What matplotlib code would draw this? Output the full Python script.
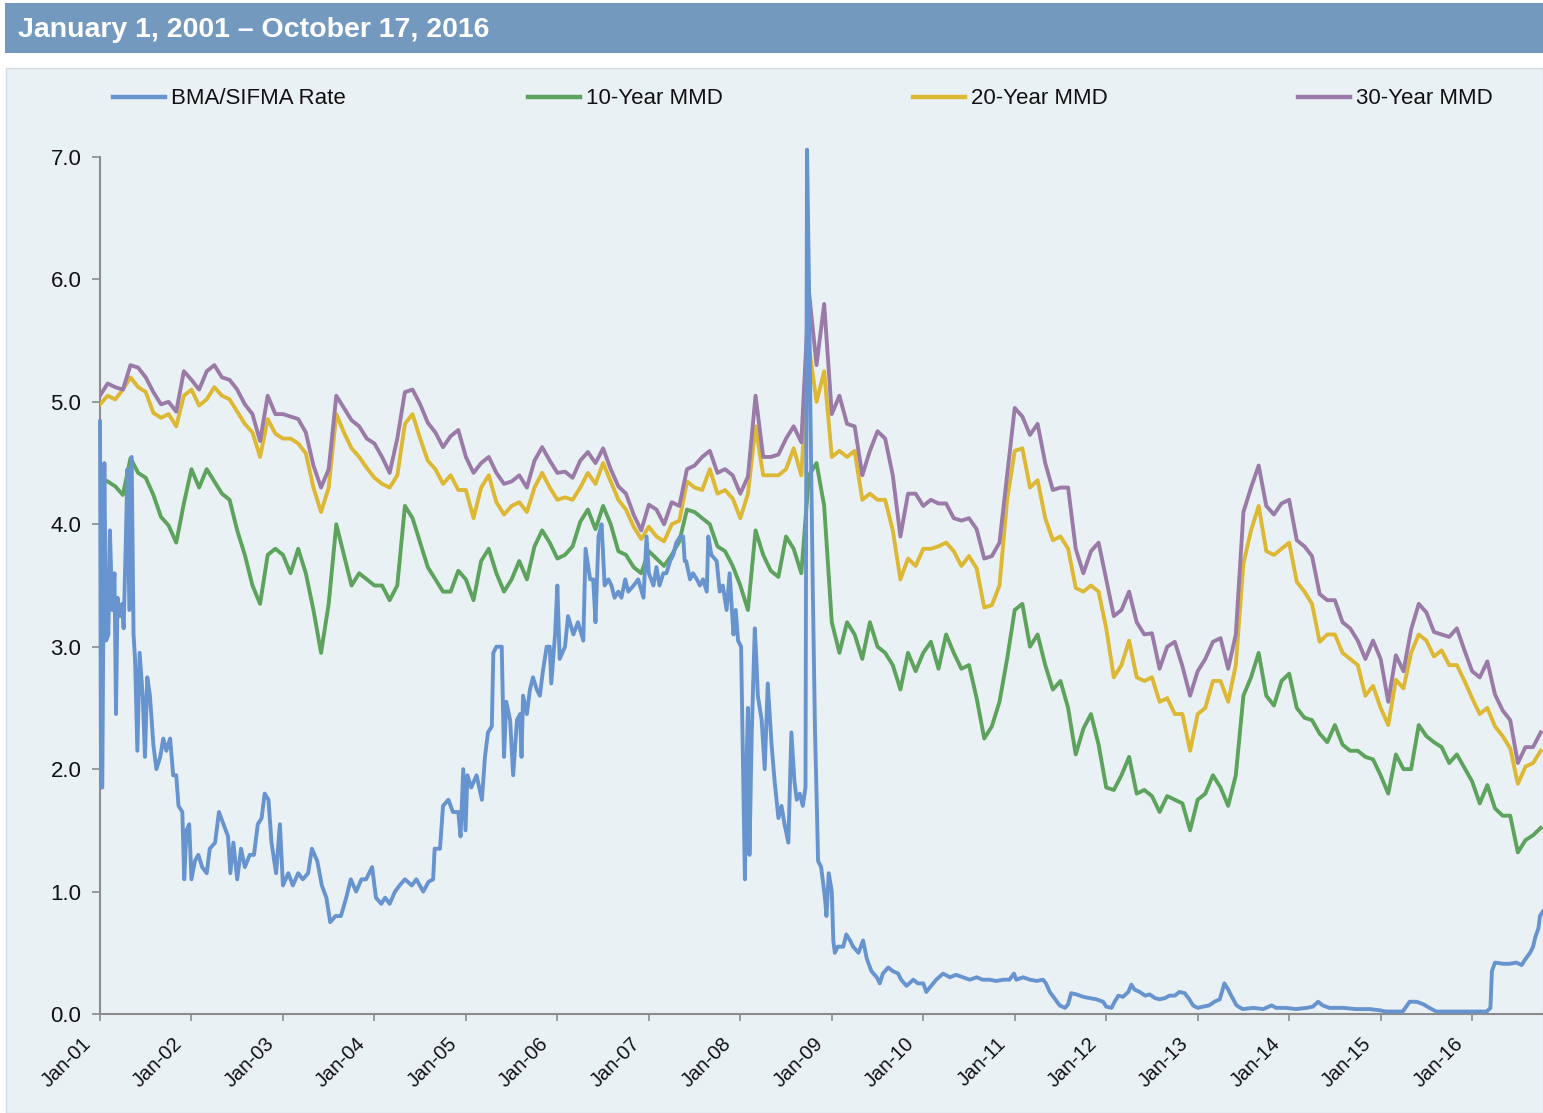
import numpy as np
import matplotlib
matplotlib.use('Agg')
import matplotlib.pyplot as plt
from matplotlib.patches import Rectangle
from matplotlib.lines import Line2D

plt.rcParams['font.family'] = ['Liberation Sans', 'DejaVu Sans']

title = 'January 1, 2001 \u2013 October 17, 2016'
names = ['BMA/SIFMA Rate', '10-Year MMD', '20-Year MMD', '30-Year MMD']
colors = ['#6794CF', '#5DA35D', '#DDB834', '#9A7BA8']
year_labels = ['Jan-01', 'Jan-02', 'Jan-03', 'Jan-04', 'Jan-05', 'Jan-06', 'Jan-07', 'Jan-08',
               'Jan-09', 'Jan-10', 'Jan-11', 'Jan-12', 'Jan-13', 'Jan-14', 'Jan-15', 'Jan-16']

# monthly MMD readings (index 0 = Jan 2001 ... 189 = Oct 2016)
mmd10 = [4.38, 4.35, 4.31, 4.24, 4.54, 4.42, 4.38, 4.24, 4.06, 3.99, 3.85, 4.17,
         4.45, 4.30, 4.45, 4.35, 4.25, 4.20, 3.95, 3.75, 3.50, 3.35, 3.75, 3.80,
         3.75, 3.60, 3.80, 3.60, 3.30, 2.95, 3.35, 4.00, 3.75, 3.50, 3.60, 3.55,
         3.50, 3.50, 3.38, 3.50, 4.15, 4.05, 3.85, 3.65, 3.55, 3.45, 3.45, 3.62,
         3.55, 3.38, 3.70, 3.80, 3.60, 3.45, 3.55, 3.70, 3.55, 3.82, 3.95, 3.85,
         3.72, 3.75, 3.82, 4.02, 4.12, 3.96, 4.15, 4.00, 3.78, 3.75, 3.65, 3.60,
         3.78, 3.72, 3.66, 3.75, 3.86, 4.12, 4.10, 4.05, 4.00, 3.82, 3.78, 3.66,
         3.50, 3.30, 3.95, 3.75, 3.62, 3.57, 3.90, 3.80, 3.60, 4.40, 4.50, 4.15,
         3.20, 2.95, 3.20, 3.10, 2.90, 3.20, 3.00, 2.95, 2.85, 2.65, 2.95, 2.80,
         2.95, 3.04, 2.82, 3.10, 2.95, 2.82, 2.85, 2.58, 2.25, 2.35, 2.55, 2.90,
         3.30, 3.35, 3.00, 3.10, 2.85, 2.65, 2.72, 2.50, 2.12, 2.33, 2.45, 2.20,
         1.85, 1.83, 1.95, 2.10, 1.80, 1.83, 1.78, 1.65, 1.78, 1.75, 1.72, 1.50,
         1.75, 1.80, 1.95, 1.85, 1.70, 1.95, 2.60, 2.75, 2.95, 2.60, 2.52, 2.72,
         2.78, 2.50, 2.42, 2.40, 2.29, 2.22, 2.36, 2.20, 2.15, 2.15, 2.10, 2.08,
         1.95, 1.80, 2.12, 2.00, 2.00, 2.36, 2.27, 2.22, 2.18, 2.05, 2.12, 2.01,
         1.90, 1.72, 1.87, 1.68, 1.62, 1.62, 1.32, 1.42, 1.46, 1.52]

mmd20 = [4.98, 5.05, 5.02, 5.10, 5.20, 5.12, 5.08, 4.91, 4.87, 4.90, 4.80, 5.05,
         5.10, 4.97, 5.02, 5.12, 5.05, 5.02, 4.92, 4.82, 4.75, 4.55, 4.86, 4.74,
         4.70, 4.70, 4.66, 4.58, 4.30, 4.10, 4.30, 4.90, 4.75, 4.62, 4.55, 4.46,
         4.38, 4.33, 4.30, 4.40, 4.82, 4.90, 4.70, 4.52, 4.45, 4.33, 4.40, 4.28,
         4.28, 4.05, 4.30, 4.40, 4.18, 4.08, 4.15, 4.18, 4.10, 4.30, 4.42, 4.30,
         4.20, 4.22, 4.20, 4.30, 4.42, 4.33, 4.50, 4.35, 4.20, 4.12, 3.98, 3.88,
         3.98, 3.90, 3.86, 4.00, 4.03, 4.35, 4.30, 4.28, 4.45, 4.25, 4.28, 4.21,
         4.05, 4.25, 4.80, 4.40, 4.40, 4.40, 4.45, 4.62, 4.40, 5.45, 5.00, 5.25,
         4.55, 4.60, 4.55, 4.60, 4.20, 4.25, 4.20, 4.20, 3.95, 3.55, 3.72, 3.66,
         3.80, 3.80, 3.82, 3.85, 3.78, 3.66, 3.74, 3.64, 3.32, 3.34, 3.50, 4.20,
         4.60, 4.62, 4.30, 4.36, 4.05, 3.87, 3.90, 3.80, 3.48, 3.45, 3.50, 3.45,
         3.15, 2.75, 2.85, 3.05, 2.75, 2.72, 2.75, 2.55, 2.58, 2.45, 2.45, 2.15,
         2.45, 2.50, 2.72, 2.72, 2.55, 2.85, 3.68, 3.95, 4.15, 3.78, 3.75, 3.80,
         3.85, 3.53, 3.45, 3.35, 3.04, 3.10, 3.10, 2.95, 2.90, 2.85, 2.60, 2.68,
         2.50, 2.36, 2.73, 2.66, 2.95, 3.10, 3.05, 2.92, 2.97, 2.85, 2.85, 2.72,
         2.58, 2.45, 2.50, 2.35, 2.27, 2.17, 1.88, 2.02, 2.05, 2.15]

mmd30 = [5.05, 5.15, 5.12, 5.10, 5.30, 5.28, 5.20, 5.08, 4.98, 5.00, 4.92, 5.25,
         5.18, 5.10, 5.25, 5.30, 5.20, 5.18, 5.10, 4.98, 4.90, 4.68, 5.05, 4.90,
         4.90, 4.88, 4.86, 4.75, 4.48, 4.30, 4.45, 5.05, 4.95, 4.85, 4.80, 4.70,
         4.66, 4.55, 4.42, 4.70, 5.08, 5.10, 4.98, 4.83, 4.75, 4.63, 4.72, 4.77,
         4.55, 4.42, 4.50, 4.55, 4.42, 4.33, 4.35, 4.40, 4.30, 4.52, 4.63, 4.52,
         4.42, 4.43, 4.38, 4.52, 4.59, 4.50, 4.62, 4.45, 4.31, 4.25, 4.08, 3.95,
         4.16, 4.12, 4.00, 4.18, 4.15, 4.45, 4.48, 4.55, 4.60, 4.42, 4.45, 4.40,
         4.25, 4.39, 5.05, 4.55, 4.55, 4.57, 4.70, 4.80, 4.67, 5.90, 5.30, 5.80,
         4.90, 5.05, 4.82, 4.80, 4.40, 4.60, 4.76, 4.70, 4.40, 3.90, 4.25, 4.25,
         4.15, 4.20, 4.17, 4.17, 4.05, 4.03, 4.05, 3.96, 3.72, 3.74, 3.85, 4.40,
         4.95, 4.88, 4.73, 4.82, 4.50, 4.28, 4.30, 4.30, 3.80, 3.60, 3.78, 3.85,
         3.55, 3.25, 3.30, 3.45, 3.20, 3.10, 3.11, 2.82, 3.00, 3.04, 2.84, 2.60,
         2.80, 2.90, 3.04, 3.07, 2.82, 3.10, 4.10, 4.30, 4.48, 4.15, 4.08, 4.17,
         4.20, 3.87, 3.82, 3.74, 3.43, 3.38, 3.38, 3.20, 3.15, 3.05, 2.90, 3.05,
         2.90, 2.55, 2.93, 2.80, 3.14, 3.35, 3.28, 3.12, 3.10, 3.08, 3.15, 2.97,
         2.80, 2.75, 2.88, 2.61, 2.48, 2.40, 2.05, 2.18, 2.18, 2.30]

# BMA/SIFMA rate read at irregular points (months since Jan 2001)
bma_month = [0.0, 0.13, 0.3, 0.57, 0.8, 1.1, 1.3, 1.6, 1.9, 2.1, 2.3, 2.6, 2.9, 3.1, 3.4, 3.6,
             3.85, 4.15, 4.4, 4.6, 4.9, 5.2, 5.6, 5.9, 6.2, 6.55, 7.0, 7.4, 7.9, 8.3, 8.7, 9.2,
             9.6, 10.0, 10.3, 10.8, 11.05, 11.35, 11.7, 12.0, 12.45, 12.9, 13.4, 14.0, 14.4,
             15.1, 15.6, 16.2, 16.8, 17.1, 17.5, 18.0, 18.5, 19.0, 19.65, 20.2, 20.7, 21.2,
             21.6, 22.1, 22.5, 23.1, 23.6, 24.0, 24.7, 25.3, 26.0, 26.6, 27.3, 27.8, 28.5,
             29.1, 29.7, 30.2, 30.9, 31.6, 32.3, 32.9, 33.6, 34.3, 34.9, 35.7,
             36.2, 36.9, 37.4, 38.0, 38.7, 39.3, 40.0, 40.9, 41.5, 42.4, 43.1, 43.7, 43.9,
             44.6, 45.0, 45.7, 46.3, 47.0, 47.3, 47.65, 47.95, 48.2, 48.7, 49.4, 50.1, 50.5,
             50.9, 51.4, 51.6, 52.0, 52.7, 53.0, 53.3, 53.8, 54.2, 54.7, 55.1, 55.3, 55.5,
             56.0, 56.4, 56.8, 57.3, 57.7, 58.1, 58.6, 59.0, 59.2, 59.7, 60.0, 60.3, 61.0,
             61.4, 62.1, 62.7, 63.4, 63.7, 64.3, 64.7, 65.0, 65.4, 65.8, 66.2, 66.7, 67.1,
             67.5, 68.0, 68.4, 68.9, 69.3, 70.0, 70.6, 71.3, 71.7, 72.0,
             72.6, 73.0, 73.4, 73.9, 74.3, 74.8, 75.2, 75.6, 76.1, 76.5, 76.7, 76.9, 77.4,
             77.8, 78.3, 78.7, 79.1, 79.6, 79.8, 80.2, 80.9, 81.3, 81.7, 82.2, 82.6, 83.1,
             83.4, 83.7, 84.1, 84.6, 84.8, 85.0, 85.2, 85.5, 85.9, 86.1, 86.3, 86.8, 87.2,
             87.6, 88.1, 88.5, 89.0, 89.4, 89.8, 90.3, 90.7, 91.1, 91.4, 91.8, 92.2, 92.55,
             92.75, 93.0, 93.2, 93.5, 93.8, 94.0, 94.2, 94.6, 95.1, 95.3, 95.6, 96.0, 96.2,
             96.4, 96.8, 97.5, 97.9, 98.4, 98.8, 99.5, 100.1, 100.6, 101.2, 101.9, 102.3,
             102.7, 103.4, 104.0, 104.7, 105.1, 105.8, 106.7, 107.3, 108.0, 108.4,
             108.9, 109.7, 110.6, 111.5, 112.3, 113.2, 114.1, 115.0, 115.8, 116.7, 117.6,
             118.5, 119.3, 119.9, 120.2, 121.1, 122.0, 122.9, 123.7, 124.1, 124.6, 125.3,
             125.9, 126.6, 127.0, 127.4, 128.1, 129.0, 129.8, 130.7, 131.6, 132.0, 132.7,
             133.1, 133.6, 134.2, 134.9, 135.3, 135.7, 136.4, 137.1, 137.7, 138.4, 139.0,
             139.7, 140.3, 141.0, 141.6, 142.3, 142.9, 143.4, 144.0, 144.7, 145.5,
             146.2, 146.9, 147.5, 148.0, 148.4, 149.1, 149.9, 151.3, 152.6, 153.7, 154.3,
             155.6, 156.9, 158.3, 159.1, 159.8, 160.4, 161.3, 163.1, 164.8, 166.6, 167.9,
             168.7, 170.9, 171.8, 172.7, 173.6, 174.4, 175.3, 177.1, 179.7, 181.9, 182.4,
             182.6, 183.0, 184.1, 184.9, 185.8, 186.5, 186.9, 187.6, 188.0, 188.3, 188.7,
             188.9, 189.3]
bma_rate = [4.84, 1.85, 1.85, 4.5, 3.05, 3.1, 3.95, 3.3, 3.6, 2.45, 3.4, 3.25, 3.35, 3.15, 3.9, 4.45,
            3.3, 4.55, 3.1, 2.9, 2.15, 2.95, 2.6, 2.1, 2.75, 2.6, 2.2, 2.0, 2.1, 2.25, 2.15, 2.25,
            1.95, 1.95, 1.7, 1.65, 1.1, 1.5, 1.55, 1.1, 1.25, 1.3, 1.2, 1.15, 1.35,
            1.4, 1.65, 1.55, 1.45, 1.15, 1.4, 1.1, 1.35, 1.2, 1.3, 1.3, 1.55, 1.6,
            1.8, 1.75, 1.4, 1.15, 1.55, 1.05, 1.15, 1.05, 1.15, 1.1, 1.15, 1.35, 1.25,
            1.05, 0.95, 0.75, 0.8, 0.8, 0.95, 1.1, 1.0, 1.1, 1.1, 1.2,
            0.95, 0.9, 0.95, 0.9, 1.0, 1.05, 1.1, 1.05, 1.1, 1.0, 1.08, 1.1, 1.35,
            1.35, 1.7, 1.75, 1.65, 1.65, 1.45, 2.0, 1.5, 1.95, 1.85, 1.95, 1.75, 2.1,
            2.3, 2.35, 2.95, 3.0, 3.0, 2.1, 2.55, 2.4, 1.95, 2.4, 2.45, 2.1, 2.6,
            2.45, 2.65, 2.75, 2.65, 2.6, 2.8, 3.0, 3.0, 2.7, 3.1, 3.5, 2.9, 3.0,
            3.25, 3.1, 3.2, 3.05, 3.8, 3.55, 3.55, 3.2, 3.9, 4.0, 3.5, 3.55, 3.5,
            3.4, 3.45, 3.4, 3.55, 3.45, 3.5, 3.55, 3.4, 3.9, 3.6,
            3.5, 3.65, 3.5, 3.6, 3.6, 3.7, 3.75, 3.85, 3.9, 3.9, 3.7, 3.7, 3.55,
            3.6, 3.55, 3.5, 3.55, 3.45, 3.9, 3.75, 3.7, 3.45, 3.5, 3.3, 3.6, 3.1,
            3.3, 3.05, 3.0, 1.1, 2.0, 2.5, 1.3, 2.3, 3.15, 2.9, 2.6, 2.4, 2.0,
            2.7, 2.2, 1.9, 1.6, 1.7, 1.55, 1.4, 2.3, 1.9, 1.75, 1.8, 1.7, 1.85,
            7.06, 6.0, 4.9, 3.5, 2.3, 1.8, 1.25, 1.2, 0.95, 0.8, 1.15, 1.0, 0.6,
            0.5, 0.55, 0.55, 0.65, 0.6, 0.55, 0.5, 0.6, 0.45, 0.35, 0.3, 0.25,
            0.33, 0.38, 0.35, 0.33, 0.28, 0.23, 0.28, 0.25, 0.25, 0.18,
            0.22, 0.28, 0.33, 0.3, 0.32, 0.3, 0.28, 0.3, 0.28, 0.28, 0.27,
            0.28, 0.28, 0.33, 0.28, 0.3, 0.28, 0.27, 0.28, 0.25, 0.18, 0.12,
            0.07, 0.05, 0.08, 0.17, 0.16, 0.14, 0.13, 0.12, 0.1, 0.06, 0.05,
            0.1, 0.15, 0.14, 0.18, 0.24, 0.2, 0.18, 0.15, 0.16, 0.13, 0.12,
            0.13, 0.15, 0.15, 0.18, 0.17, 0.12, 0.07, 0.05, 0.06, 0.07,
            0.1, 0.12, 0.25, 0.2, 0.15, 0.07, 0.04, 0.05, 0.04, 0.07, 0.05,
            0.05, 0.04, 0.05, 0.06, 0.1, 0.07, 0.05, 0.05, 0.04, 0.04, 0.03,
            0.02, 0.02, 0.1, 0.1, 0.08, 0.05, 0.02, 0.02, 0.02, 0.02, 0.05,
            0.35, 0.42, 0.41, 0.41, 0.42, 0.4, 0.44, 0.5, 0.55, 0.63, 0.7,
            0.8, 0.84]

W, H = 1543, 1113
fig = plt.figure(figsize=(W / 100, H / 100), dpi=100)
fig.patch.set_facecolor('white')

def fx(px):
    return px / W

def fy(py):
    return 1 - py / H

# background panel and title bar
fig.add_artist(Rectangle((fx(6), 0), fx(W) - fx(6), fy(68), transform=fig.transFigure,
                         facecolor='#EAF1F5', edgecolor='#D3DCE3', lw=1, zorder=0))
fig.add_artist(Rectangle((fx(5), fy(53)), fx(W) - fx(5), fy(3) - fy(53), transform=fig.transFigure,
                         facecolor='#7499BF', edgecolor='none', zorder=1))
fig.text(fx(18), fy(30), title, color='white', fontsize=20.5, fontweight='bold',
         ha='left', va='center', zorder=2)

ax = fig.add_axes([fx(100), fy(1014), fx(W) - fx(100), fy(157) - fy(1014)])
ax.set_facecolor('none')

lw = 2.8
months = np.arange(len(mmd10))
ax.plot(months, mmd10, color=colors[1], lw=lw, zorder=3)
ax.plot(months, mmd20, color=colors[2], lw=lw, zorder=4)
ax.plot(months, mmd30, color=colors[3], lw=lw, zorder=5)
ax.plot(bma_month, bma_rate, color=colors[0], lw=lw, zorder=6, clip_on=False)

ax.set_xlim(0, 189.3)
ax.set_ylim(0, 7)
ticks = np.arange(0, 181, 12)
ax.set_xticks(ticks)
ax.set_xticklabels([])
ax.set_yticks(np.arange(0, 8, 1))
ax.set_yticklabels(['%.1f' % v for v in range(8)])

for s in ['top', 'right']:
    ax.spines[s].set_visible(False)
for s in ['left', 'bottom']:
    ax.spines[s].set_color('#8C8C8C')
    ax.spines[s].set_linewidth(1.5)

ax.tick_params(axis='y', direction='out', length=5.5, width=1.2, color='#8C8C8C',
               labelsize=16, pad=8, labelcolor='#111111')
ax.tick_params(axis='x', direction='out', length=5, width=1.2, color='#8C8C8C')

# rotated year labels, placed like the original
for t, lab in zip(ticks, year_labels):
    ax.annotate(lab, xy=(t, 0), xycoords=('data', 'axes fraction'),
                xytext=(-12, -27), textcoords='offset pixels', rotation=45,
                ha='right', va='center', rotation_mode='anchor',
                fontsize=14.5, color='#111111', annotation_clip=False)

# legend drawn across the top
leg_x = [113, 528, 913, 1298]
for i in range(4):
    fig.add_artist(Line2D([fx(leg_x[i]), fx(leg_x[i] + 52)], [fy(97), fy(97)],
                          transform=fig.transFigure, color=colors[i], lw=3.2))
    fig.text(fx(leg_x[i] + 58), fy(98.5), names[i], fontsize=16, ha='left', va='center',
             color='#111111')

fig.savefig('out.png', dpi=100)
